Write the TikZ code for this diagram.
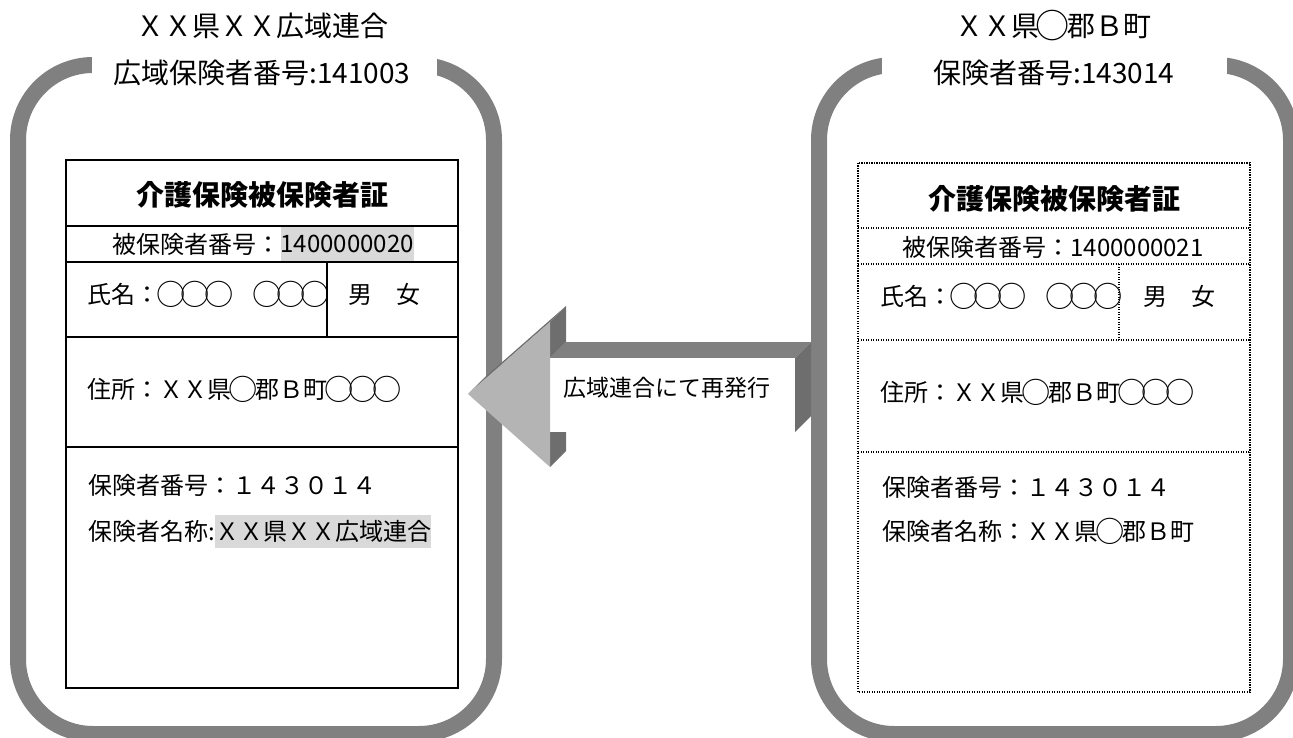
\documentclass[tikz,border=0pt]{standalone}
\usepackage{fontspec}
\usepackage{graphicx}
\setmainfont{Noto Sans CJK JP}
\usetikzlibrary{positioning}

\definecolor{panelgray}{HTML}{808080}
\definecolor{headgray}{HTML}{B4B4B4}
\definecolor{sidegray}{HTML}{6E6E6E}
\definecolor{topgray}{HTML}{808080}
\definecolor{markgray}{HTML}{D9D9D9}

% full-width circle, as large as the other characters
\newcommand\maru{\makebox[1em]{\raisebox{-0.08em}{\scalebox{1.22}{○}}}}

\tikzset{
  panel/.style={draw=panelgray, line width=16pt, rounded corners=75pt},
  cardline/.style={draw=black, line width=1.4pt},
  dotline/.style={draw=black, line width=1.2pt, dash pattern=on 1.2pt off 1.3pt},
  txt/.style={inner sep=0pt, font=\fontsize{24}{28}\selectfont},
  headtxt/.style={inner sep=0pt, font=\fontsize{28}{32}\selectfont},
  cardtitle/.style={inner sep=0pt, font=\bfseries\fontsize{28}{32}\selectfont},
  hl/.style={txt, fill=markgray, minimum height=33pt}
}

\begin{document}
\begin{tikzpicture}[x=1pt,y=-1pt]
  \useasboundingbox (0,0) rectangle (1293,738);

  % two grey frames, open at the top where the titles sit
  \draw[panel] (18,65) rectangle (494,734);
  \draw[panel] (819,65) rectangle (1291,734);
  \fill[white] (92,45) rectangle (437,86);
  \fill[white] (882,45) rectangle (1227,86);

  % titles above the frames
  \node[headtxt] (lname) at (262,26) {ＸＸ県ＸＸ広域連合};
  \node[headtxt] (lno) at (262,73) {広域保険者番号:141003};
  \node[headtxt] (rname) at (1053,26) {ＸＸ県\maru 郡Ｂ町};
  \node[headtxt] (rno) at (1054,73) {保険者番号:143014};

  % left card, solid lines
  \draw[cardline] (66,160) rectangle (458,688);
  \foreach \y in {226,262,337,447}
    \draw[cardline] (66,\y) -- (458,\y);
  \draw[cardline] (327,262) -- (327,337);

  \node[cardtitle] (ltitle) at (262,195) {介護保険被保険者証};
  \node[txt,anchor=west] (lnumlab) at (112,244) {被保険者番号：};
  \node[hl,inner xsep=0pt,right=0pt of lnumlab] (lnum) {1400000020};
  \node[txt,anchor=west] (lfullname) at (87,294) {氏名：\maru\maru\maru　\maru\maru\maru};
  \node[txt,anchor=west] (lsex) at (348,294) {男　女};
  \node[txt,anchor=west] (laddr) at (87,389) {住所：ＸＸ県\maru 郡Ｂ町\maru\maru\maru};
  \node[txt,anchor=west] (linsno) at (88,485) {保険者番号：１４３０１４};
  \node[txt,anchor=west] (linslab) at (88,531) {保険者名称:};
  \node[hl,inner xsep=0pt,right=0pt of linslab] (linsname) {ＸＸ県ＸＸ広域連合};

  % right card, dotted lines
  \draw[dotline] (858,163) rectangle (1250,692);
  \foreach \y in {228,264,340,452}
    \draw[dotline] (858,\y) -- (1250,\y);
  \draw[dotline] (1119,264) -- (1119,340);

  \node[cardtitle] (rtitle) at (1054,199) {介護保険被保険者証};
  \node[txt] (rnum) at (1053,247) {被保険者番号：1400000021};
  \node[txt,anchor=west] (rfullname) at (880,296) {氏名：\maru\maru\maru　\maru\maru\maru};
  \node[txt,anchor=west] (rsex) at (1143,296) {男　女};
  \node[txt,anchor=west] (raddr) at (880,392) {住所：ＸＸ県\maru 郡Ｂ町\maru\maru\maru};
  \node[txt,anchor=west] (rinsno) at (882,487) {保険者番号：１４３０１４};
  \node[txt,anchor=west] (rinsname) at (882,531) {保険者名称：ＸＸ県\maru 郡Ｂ町};

  % block arrow from the right card to the left one, drawn with depth
  \fill[topgray] (550,358) -- (795,358) -- (811,342) -- (566,342) -- cycle;
  \fill[sidegray] (550,322) -- (566,306) -- (566,342) -- (550,358) -- cycle;
  \fill[sidegray] (550,432) -- (566,432) -- (566,451) -- (550,467) -- cycle;
  \fill[sidegray] (795,358) -- (811,342) -- (811,416) -- (795,432) -- cycle;
  \fill[sidegray] (468,394) -- (550,322) -- (566,306) -- (484,378) -- cycle;
  \fill[white] (550,358) rectangle (795,432);
  \fill[headgray] (468,394) -- (550,322) -- (550,467) -- cycle;
  \node[txt,font=\fontsize{23}{27}\selectfont] (reissue) at (667,388) {広域連合にて再発行};
\end{tikzpicture}
\end{document}
